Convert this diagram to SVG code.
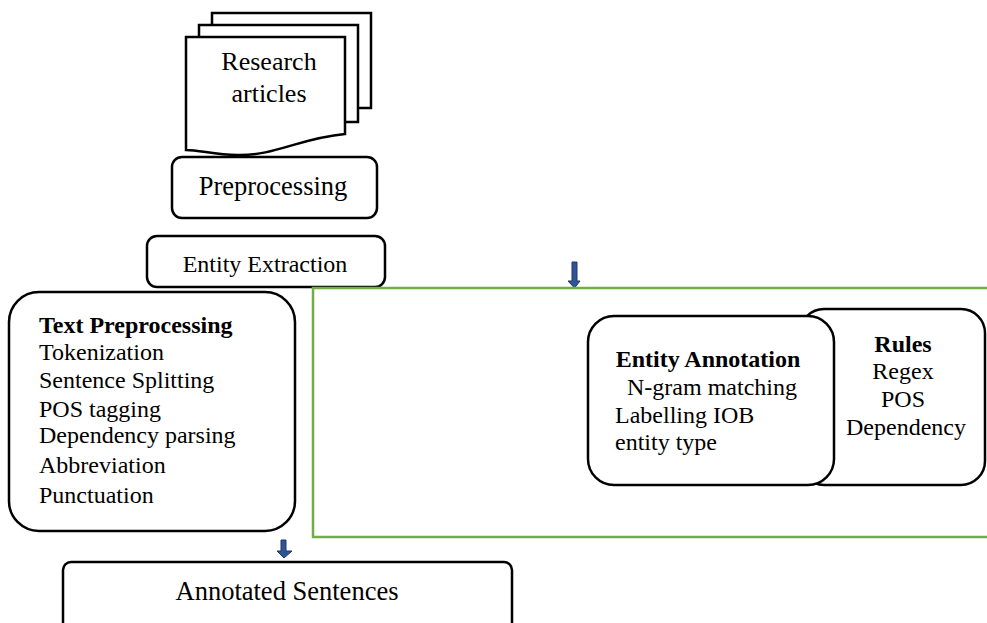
<svg xmlns="http://www.w3.org/2000/svg" width="987" height="623" viewBox="0 0 987 623">
<style>
.b{fill:#fff;stroke:#000;stroke-width:2.5}
.t{font-family:"Liberation Serif","Times New Roman",serif;fill:#000}
.bold{font-weight:bold}
.mid{text-anchor:middle}
.arr{fill:#2F5597;stroke:#1F3864;stroke-width:1}
</style>
<rect width="987" height="623" fill="#fff"/>
<g id="research-articles">
<rect class="b" x="212" y="13" width="159" height="95"/>
<rect class="b" x="199" y="25" width="159" height="97"/>
<path class="b" d="M186,37 H345 V134 C300,138 275,156 237,155 C215,155 200,150 186,150 Z"/>
<text class="t mid" x="269" y="70" font-size="26">Research</text>
<text class="t mid" x="269" y="102" font-size="26">articles</text>
</g>
<g id="preprocessing">
<rect class="b" x="172" y="157" width="205" height="61" rx="10"/>
<text class="t mid" x="273" y="195" font-size="26.5">Preprocessing</text>
</g>
<g id="entity-extraction">
<rect class="b" x="147" y="236" width="238" height="51" rx="10"/>
<text class="t mid" x="265" y="272" font-size="24">Entity Extraction</text>
</g>
<g id="connectors">
<path class="arr" d="M572,262 H577 V281 H580 L574.5,288 L568,281 H572 Z"/>
<path class="arr" d="M281,540 H286 V551 H292 L284,558 L277,551 H281 Z"/>
</g>
<g id="entity-extraction-region">
<rect x="313" y="288" width="690" height="249" fill="none" stroke="#70AD47" stroke-width="2.5"/>
</g>
<g id="text-preprocessing">
<rect class="b" x="9" y="292" width="286" height="239" rx="30"/>
<text class="t" font-size="24">
<tspan class="bold" x="39" y="333">Text Preprocessing</tspan>
<tspan x="39" y="360">Tokenization</tspan>
<tspan x="39" y="388">Sentence Splitting</tspan>
<tspan x="39" y="417">POS tagging</tspan>
<tspan x="39" y="443">Dependency parsing</tspan>
<tspan x="39" y="473">Abbreviation</tspan>
<tspan x="39" y="503">Punctuation</tspan>
</text>
</g>
<g id="rules">
<rect class="b" x="800" y="309" width="185" height="176" rx="24"/>
<text class="t mid" font-size="24">
<tspan class="bold" x="906" y="352">Rules</tspan>
<tspan x="906" y="379">Regex</tspan>
<tspan x="906" y="407">POS</tspan>
<tspan x="906" y="435">Dependency</tspan>
</text>
</g>
<g id="entity-annotation">
<rect class="b" x="588" y="316" width="246" height="169" rx="26"/>
<text class="t" font-size="24">
<tspan class="bold" x="711" y="367" text-anchor="middle">Entity Annotation</tspan>
<tspan x="627" y="395">N-gram matching</tspan>
<tspan x="615" y="423">Labelling IOB</tspan>
<tspan x="615" y="450">entity type</tspan>
</text>
</g>
<g id="annotated-sentences">
<rect class="b" x="63" y="562" width="449" height="80" rx="8"/>
<text class="t mid" x="287" y="600" font-size="26.5">Annotated Sentences</text>
</g>
</svg>
